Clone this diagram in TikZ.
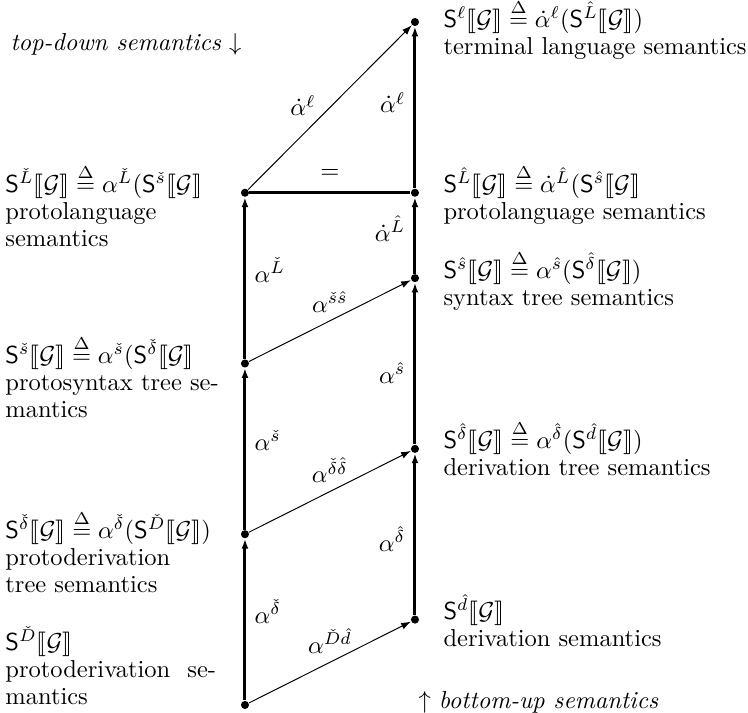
\documentclass[tikz,border=0pt]{standalone}
\usepackage{amsmath,amssymb,stmaryrd}
\usetikzlibrary{positioning,arrows.meta}
\newcommand{\sem}[1]{\mathsf{S}^{#1}\llbracket\mathcal{G}\rrbracket}
\newcommand{\defeq}{\stackrel{\Delta}{=}}
\newcommand{\desc}[1]{\begin{tabular}[t]{@{}l@{}}#1\end{tabular}}
\tikzset{
  >={Latex[length=4pt,width=2.8pt]},
  vtx/.style={circle, fill, inner sep=0pt, minimum size=3.3pt},
  lab/.style={inner sep=0pt, anchor=base west, font=\fontsize{10}{11}\selectfont},
  rise/.style={->, line width=1.2pt},
  diag/.style={->, line width=0.4pt},
  same/.style={line width=1.2pt},
}
\begin{document}
\begin{tikzpicture}[x=69.4pt, y=34.85pt]
  \useasboundingbox (-1.441,-0.094) rectangle (2.959,8.258);
  % proto side
  \node[vtx] (pD) at (0,0) {};
  \node[vtx] (pdt) at (0,2) {};
  \node[vtx] (pst) at (0,4) {};
  \node[vtx] (pL) at (0,6) {};
  % final side
  \node[vtx] (d) at (1,1) {};
  \node[vtx] (dt) at (1,3) {};
  \node[vtx] (st) at (1,5) {};
  \node[vtx] (L) at (1,6) {};
  \node[vtx] (term) at (1,8) {};
  \draw[rise](pD)--node[right,pos=0.55]{$\alpha^{\check{\delta}}$}(pdt);
  \draw[rise](pdt)--node[right,pos=0.55]{$\alpha^{\check{s}}$}(pst);
  \draw[rise](pst)--node[right,pos=0.55]{$\alpha^{\check{L}}$}(pL);
  \draw[rise](d)--node[left,pos=0.47]{$\alpha^{\hat{\delta}}$}(dt);
  \draw[rise](dt)--node[left,pos=0.44]{$\alpha^{\hat{s}}$}(st);
  \draw[rise](st)--node[left,pos=0.59]{$\dot{\alpha}^{\hat{L}}$}(L);
  \draw[rise](L)--node[left,pos=0.53]{$\dot{\alpha}^{\ell}$}(term);
  \draw[diag](pD)--node[above]{$\alpha^{\check{D}\hat{d}}$}(d);
  \draw[diag](pdt)--node[above]{$\alpha^{\check{\delta}\hat{\delta}}$}(dt);
  \draw[diag](pst)--node[above]{$\alpha^{\check{s}\hat{s}}$}(st);
  \draw[diag](pL)--node[pos=0.43,above left,inner sep=1pt]{$\dot{\alpha}^{\ell}$}(term);
  \draw[same](pL)--node[above=2pt]{$=$}(L);
  % descriptions
  \node[lab] (tTerm) at (1.165,7.94) {\desc{$\sem{\ell}\defeq\dot{\alpha}^{\ell}(\sem{\hat{L}})$\\terminal language semantics}};
  \node[lab] (tL) at (1.165,6) {\desc{$\sem{\hat{L}}\defeq\dot{\alpha}^{\hat{L}}(\sem{\hat{s}}$\\protolanguage semantics}};
  \node[lab] (tSt) at (1.165,5) {\desc{$\sem{\hat{s}}\defeq\alpha^{\hat{s}}(\sem{\hat{\delta}})$\\syntax tree semantics}};
  \node[lab] (tDt) at (1.165,3) {\desc{$\sem{\hat{\delta}}\defeq\alpha^{\hat{\delta}}(\sem{\hat{d}})$\\derivation tree semantics}};
  \node[lab] (tD) at (1.165,1) {\desc{$\sem{\hat{d}}$\\derivation semantics}};
  \node[lab] (tpL) at (-1.412,6) {\desc{$\sem{\check{L}}\defeq\alpha^{\check{L}}(\sem{\check{s}}$\\protolanguage\\semantics}};
  \node[lab] (tpSt) at (-1.412,4) {\desc{$\sem{\check{s}}\defeq\alpha^{\check{s}}(\sem{\check{\delta}}$\\protosyntax tree se-\\mantics}};
  \node[lab] (tpDt) at (-1.412,1.95) {\desc{$\sem{\check{\delta}}\defeq\alpha^{\check{\delta}}(\sem{\check{D}})$\\protoderivation\\tree semantics}};
  \node[lab] (tpD) at (-1.412,0.64) {\desc{$\sem{\check{D}}$\\\makebox[86pt][l]{protoderivation\hfill se-}\\mantics}};
  \node[lab] (down) at (-1.382,7.672) {\textit{top-down semantics} $\downarrow$};
  \node[lab] (upw) at (1.018,-0.047) {$\uparrow$ \textit{bottom-up semantics}};
\end{tikzpicture}
\end{document}
